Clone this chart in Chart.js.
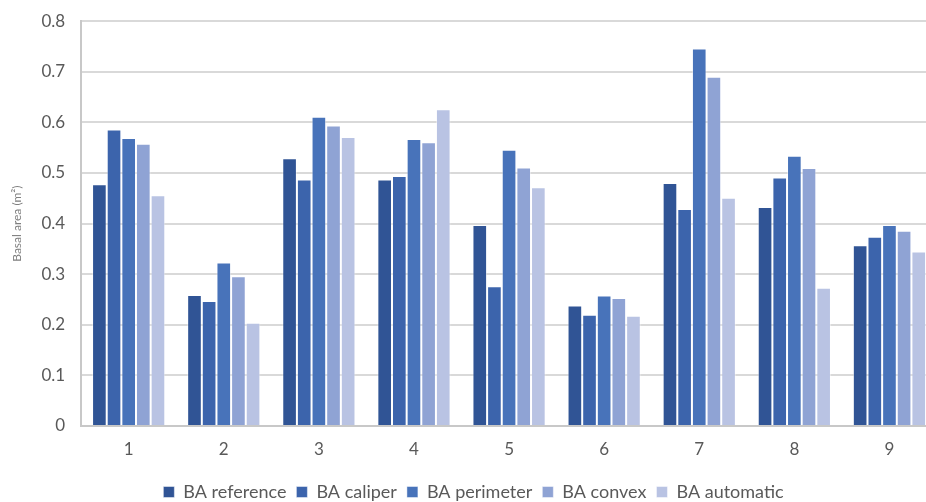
<!DOCTYPE html>
<html>
<head>
<meta charset="utf-8">
<script src="https://cdn.jsdelivr.net/npm/chart.js@4"></script>
<style>
  html, body { margin: 0; padding: 0; background: #fff; overflow: hidden; }
  #wrap { width: 946px; height: 507px; margin-top: -5px; }
</style>
</head>
<body>
<div id="wrap"><canvas id="baChart"></canvas></div>
<script>
// Tree numbers and basal area estimates (m2) per method
const trees = ['1', '2', '3', '4', '5', '6', '7', '8', '9'];
const baReference = [0.478, 0.259, 0.529, 0.487, 0.397, 0.238, 0.480, 0.433, 0.357];
const baCaliper = [0.586, 0.247, 0.487, 0.494, 0.276, 0.220, 0.429, 0.491, 0.374];
const baPerimeter = [0.569, 0.323, 0.611, 0.567, 0.546, 0.258, 0.746, 0.534, 0.397];
const baConvex = [0.558, 0.296, 0.594, 0.561, 0.511, 0.253, 0.690, 0.510, 0.386];
const baAutomatic = [0.456, 0.204, 0.571, 0.626, 0.472, 0.218, 0.451, 0.273, 0.345];

const textColor = '#595959';
const fontFamily = 'Lato, "Open Sans", sans-serif';

function series(label, data, color) {
  return {
    label: label,
    data: data,
    backgroundColor: color,
    borderColor: 'rgba(255,255,255,0.45)',
    borderWidth: 1,
    categoryPercentage: 0.77,
    barPercentage: 1.0
  };
}

const ctx = document.getElementById('baChart').getContext('2d');
new Chart(ctx, {
  type: 'bar',
  data: {
    labels: trees,
    datasets: [
      series('BA reference', baReference, '#305495'),
      series('BA caliper', baCaliper, '#3c64ac'),
      series('BA perimeter', baPerimeter, '#4873ba'),
      series('BA convex', baConvex, '#8fa3d4'),
      series('BA automatic', baAutomatic, '#b9c3e3')
    ]
  },
  options: {
    responsive: true,
    maintainAspectRatio: false,
    animation: false,
    layout: { padding: { top: 4, right: 9, left: 10, bottom: -9 } },
    plugins: {
      tooltip: { enabled: false },
      legend: {
        position: 'bottom',
        labels: {
          color: textColor,
          font: { family: fontFamily, size: 18 },
          boxWidth: 11,
          boxHeight: 11,
          padding: 10
        }
      }
    },
    scales: {
      x: {
        grid: { display: false, drawTicks: false },
        border: { color: '#c8c8c8', width: 2 },
        ticks: {
          color: textColor,
          font: { family: fontFamily, size: 17, lineHeight: 1 },
          padding: 15
        }
      },
      y: {
        min: 0,
        max: 0.8,
        grid: { color: '#d9d9d9', lineWidth: 2, drawTicks: false },
        border: { color: '#c8c8c8', width: 2 },
        ticks: {
          stepSize: 0.1,
          color: textColor,
          font: { family: fontFamily, size: 17 },
          padding: 16,
          callback: function (v) { return v === 0 ? '0' : v.toFixed(1); }
        },
        title: {
          display: true,
          text: 'Basal area (m²)',
          color: '#7f7f7f',
          font: { family: fontFamily, size: 12 },
          padding: { top: 0, bottom: 1 }
        }
      }
    }
  }
});
</script>
</body>
</html>
